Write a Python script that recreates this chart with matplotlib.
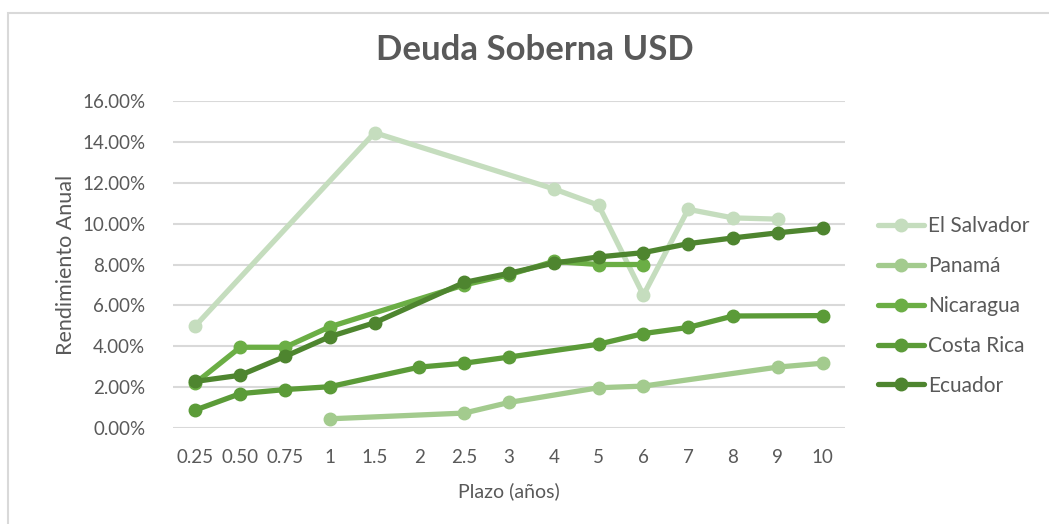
import numpy as np
import matplotlib
matplotlib.use("Agg")
import matplotlib.pyplot as plt
from matplotlib.patches import Rectangle

categories = ["0.25", "0.50", "0.75", "1", "1.5", "2", "2.5", "3", "4", "5", "6", "7", "8", "9", "10"]
N = np.nan
el_salvador = [5.00, N, N, N, 14.45, N, N, N, 11.70, 10.90, 6.50, 10.70, 10.28, 10.22, N]
panama      = [N, N, N, 0.45, N, N, 0.73, 1.25, N, 1.97, 2.05, N, N, 2.98, 3.17]
nicaragua   = [2.20, 3.95, 3.95, 4.95, N, N, 7.00, 7.50, 8.15, 8.00, 8.00, N, N, N, N]
costa_rica  = [0.88, 1.68, 1.88, 2.02, N, 2.98, 3.17, 3.47, N, 4.10, 4.62, 4.92, 5.48, N, 5.50]
ecuador     = [2.28, 2.58, 3.50, 4.47, 5.15, N, 7.12, 7.57, 8.07, 8.37, 8.58, 9.02, 9.30, 9.55, 9.77]

series = [("El Salvador", el_salvador, "#C5DDBE"),
          ("Panamá", panama, "#A3CB8E"),
          ("Nicaragua", nicaragua, "#6BAE45"),
          ("Costa Rica", costa_rica, "#5B9B38"),
          ("Ecuador", ecuador, "#4E852F")]

TXT = "#595959"
plt.rcParams['font.family'] = ['Lato', 'DejaVu Sans']
fig = plt.figure(figsize=(10.49, 5.24), dpi=100)
fig.patches.append(Rectangle((8/1049, -0.1), 1.2, 1 - 13/524 + 0.1, transform=fig.transFigure,
                             fill=False, edgecolor="#D9D9D9", linewidth=1.5))
ax = fig.add_axes([173/1049, 1 - 428/524, (845-173)/1049, (428-101)/524])

x = np.arange(len(categories))
for name, vals, col in series:
    v = np.array(vals, dtype=float)
    m = ~np.isnan(v)
    ax.plot(x[m], v[m] / 100, color=col, linewidth=3.8, marker='o', markersize=9,
            label=name, solid_capstyle='round')

ax.set_xlim(-0.5, len(categories) - 0.5)
ax.set_ylim(0, 0.16)
yt = np.arange(0, 0.161, 0.02)
ax.set_yticks(yt)
ax.set_yticklabels([f"{t*100:.2f}%" for t in yt])
ax.set_xticks(x)
ax.set_xticklabels(categories)
ax.yaxis.grid(True, color="#D9D9D9", linewidth=1.5)
ax.set_axisbelow(True)
for s in ax.spines.values():
    s.set_visible(False)
ax.tick_params(axis='both', length=0, labelsize=13.5, labelcolor=TXT)
ax.tick_params(axis='x', pad=15)
ax.tick_params(axis='y', pad=20)

ax.set_xlabel("Plazo (años)", fontsize=14, color=TXT, labelpad=12)
ax.set_ylabel("Rendimiento Anual", fontsize=15.5, color=TXT)
ax.yaxis.set_label_coords((76 - 173) / 672, 0.5)

fig.text(535/1049, 1 - 50/524, "Deuda Soberna USD", ha='center', va='center',
         fontsize=25, fontweight='bold', color=TXT)

leg = ax.legend(loc='center left', bbox_to_anchor=(870/1049, 1 - 306/524),
                bbox_transform=fig.transFigure, frameon=False,
                fontsize=15, labelspacing=0.95, handlelength=2.2, handletextpad=0.2,
                borderaxespad=0)
for t in leg.get_texts():
    t.set_color(TXT)

fig.savefig("out.png", dpi=100)
